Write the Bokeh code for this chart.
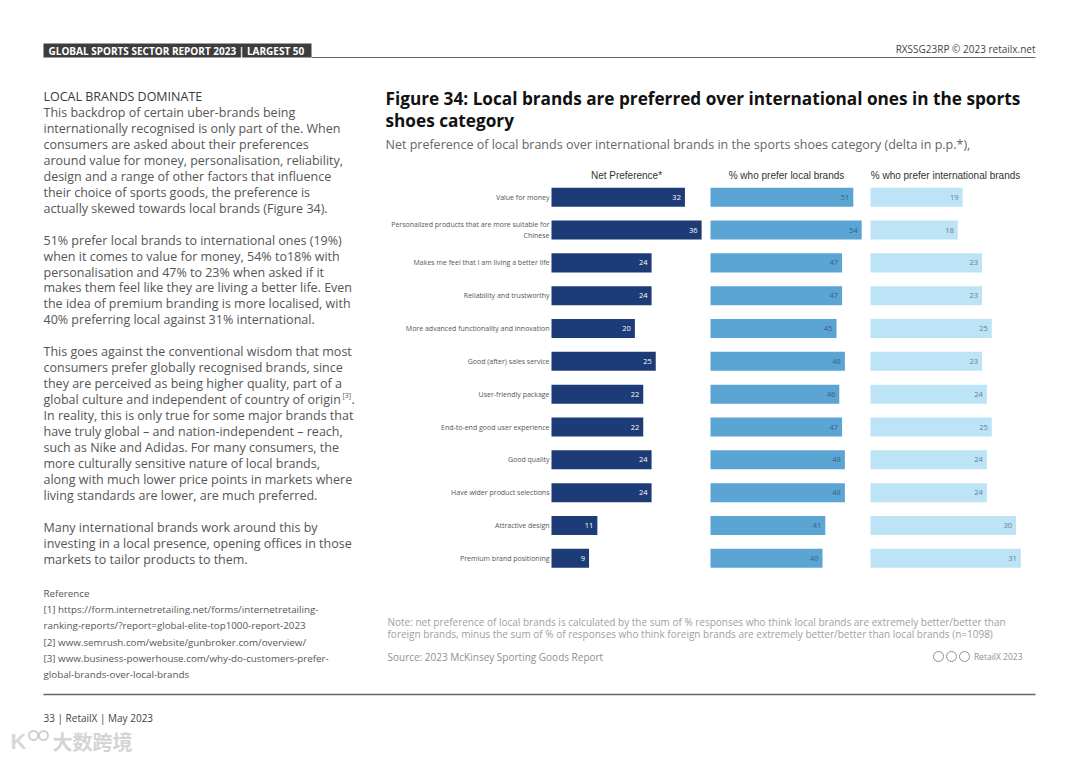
from bokeh.plotting import figure
from bokeh.models import Range1d, ColumnDataSource
from bokeh.core.properties import value
from bokeh.embed import file_html
from bokeh.resources import INLINE

# ---------------- data ----------------
categories = [
    "Value for money",
    "Personalized products that are more suitable for\nChinese",
    "Makes me feel that I am living a better life",
    "Reliability and trustworthy",
    "More advanced functionality and innovation",
    "Good (after) sales service",
    "User-friendly package",
    "End-to-end good user experience",
    "Good quality",
    "Have wider product selections",
    "Attractive design",
    "Premium brand positioning",
]
net_pref = [32, 36, 24, 24, 20, 25, 22, 22, 24, 24, 11, 9]
local_pref = [51, 54, 47, 47, 45, 48, 46, 47, 48, 48, 41, 40]
intl_pref = [19, 18, 23, 23, 25, 23, 24, 25, 24, 24, 30, 31]
panel_titles = ["Net Preference*", "% who prefer local brands", "% who prefer international brands"]

title_lines = ["Figure 34: Local brands are preferred over international ones in the sports",
               "shoes category"]
subtitle = "Net preference of local brands over international brands in the sports shoes category (delta in p.p.*),"
note_lines = ["Note: net preference of local brands is calculated by the sum of % responses who think local brands are extremely better/better than",
              "foreign brands, minus the sum of % of responses who think foreign brands are extremely better/better than local brands (n=1098)"]
source_text = "Source: 2023 McKinsey Sporting Goods Report"

body_heading = "LOCAL BRANDS DOMINATE"
body_paragraphs = [
    ["This backdrop of certain uber-brands being",
     "internationally recognised is only part of the. When",
     "consumers are asked about their preferences",
     "around value for money, personalisation, reliability,",
     "design and a range of other factors that influence",
     "their choice of sports goods, the preference is",
     "actually skewed towards local brands (Figure 34)."],
    ["51% prefer local brands to international ones (19%)",
     "when it comes to value for money, 54% to18% with",
     "personalisation and 47% to 23% when asked if it",
     "makes them feel like they are living a better life. Even",
     "the idea of premium branding is more localised, with",
     "40% preferring local against 31% international."],
    ["This goes against the conventional wisdom that most",
     "consumers prefer globally recognised brands, since",
     "they are perceived as being higher quality, part of a",
     "global culture and independent of country of origin",
     "In reality, this is only true for some major brands that",
     "have truly global \u2013 and nation-independent \u2013 reach,",
     "such as Nike and Adidas. For many consumers, the",
     "more culturally sensitive nature of local brands,",
     "along with much lower price points in markets where",
     "living standards are lower, are much preferred."],
    ["Many international brands work around this by",
     "investing in a local presence, opening offices in those",
     "markets to tailor products to them."],
]
ref_lines = ["Reference",
             "[1] https://form.internetretailing.net/forms/internetretailing-",
             "ranking-reports/?report=global-elite-top1000-report-2023",
             "[2] www.semrush.com/website/gunbroker.com/overview/",
             "[3] www.business-powerhouse.com/why-do-customers-prefer-",
             "global-brands-over-local-brands"]

# ---------------- figure ----------------
W, H = 1064, 760
p = figure(width=W, height=H, x_range=Range1d(0, W), y_range=Range1d(H, 0),
           min_border=0, toolbar_location=None, output_backend="svg")
p.axis.visible = False
p.grid.visible = False
p.outline_line_color = None
p.background_fill_color = "white"

OS = value("Open Sans")
LS = value("Liberation Sans")

def txt(x, y, s, size, color, align="left", font=OS, style="normal", baseline="middle"):
    p.text(x=[x], y=[y], text=[s], text_font=font, text_font_size=f"{size}px",
           text_color=color, text_align=align, text_baseline=baseline, text_font_style=style)

# panel scales (pixels per unit, base position)
row0, row_step = 196.7, 32.83
p.extra_y_ranges = {"rows": Range1d((H - row0) / row_step, (0 - row0) / row_step)}
panels = [("net", net_pref, 551.0, 4.17, "#1d3b77", "white"),
          ("local", local_pref, 710.0, 2.80, "#5ba5d4", "#3b5f82"),
          ("intl", intl_pref, 870.0, 4.85, "#bde3f7", "#5d7d96")]
for name, vals, base, scale, _, _ in panels:
    p.extra_x_ranges[name] = Range1d((0 - base) / scale, (W - base) / scale)

idx = list(range(len(categories)))
for (name, vals, base, scale, col, tcol), ttl in zip(panels, panel_titles):
    src = ColumnDataSource(dict(y=idx, v=vals, lab=[str(v) for v in vals]))
    p.hbar(y="y", left=0, right="v", height=0.58, source=src, fill_color=col,
           line_color=None, x_range_name=name, y_range_name="rows")
    p.text(x="v", y="y", text="lab", source=src, x_offset=-4, text_align="right",
           text_baseline="middle", text_font=OS, text_font_size="7.5px", text_color=tcol,
           x_range_name=name, y_range_name="rows")

csrc = ColumnDataSource(dict(y=idx, x=[0] * len(idx), t=categories))
p.text(x="x", y="y", text="t", source=csrc, x_offset=-2, text_align="right",
       text_baseline="middle", text_font=OS, text_font_size="7px", text_color="#555555",
       text_line_height=1.25, x_range_name="net", y_range_name="rows")

for x, t in zip([626, 786, 945], panel_titles):
    txt(x, 175, t, 10, "#333333", align="center", font=LS)

# ---------------- header ----------------
p.quad(left=[43], right=[311], top=[43], bottom=[57], fill_color="#3d3d3d", line_color=None)
txt(48, 50.5, "GLOBAL SPORTS SECTOR REPORT 2023 | LARGEST 50", 10, "white", style="bold")
p.line(x=[311, 1035], y=[57, 57], line_color="#666666", line_width=1.2)
txt(1035, 48, "RXSSG23RP \u00a9 2023 retailx.net", 10, "#444444", align="right")

# ---------------- title ----------------
for i, t in enumerate(title_lines):
    txt(385, 98 + i * 22, t, 17.2, "#111111", style="bold")
txt(385, 144, subtitle, 12.5, "#666666")

# ---------------- left text ----------------
txt(43, 96, body_heading, 12.5, "#3a3a3a")
y = 112
lh = 15.95
for para in body_paragraphs:
    for line in para:
        txt(43, y, line, 12.5, "#555555")
        if line.endswith("country of origin"):
            txt(342, y - 4, "[3]", 7, "#555555")
            txt(351, y, ".", 12.5, "#555555")
        y += lh
    y += lh
for i, t in enumerate(ref_lines):
    txt(43, 593 + i * 16.2, t, 9.8, "#555555")

# ---------------- notes ----------------
for i, t in enumerate(note_lines):
    txt(387, 621 + i * 12, t, 10, "#a0a0a0")
txt(387, 656, source_text, 10, "#909090")
txt(1022, 656, "RetailX 2023", 8.5, "#909090", align="right")
p.scatter(x=[938, 951, 964], y=[656, 656, 656], size=10, fill_color=None,
          line_color="#909090", line_width=1)

# ---------------- footer ----------------
p.line(x=[43, 1035], y=[694, 694], line_color="#666666", line_width=1.5)
txt(43, 717, "33 | RetailX | May 2023", 10, "#444444")
txt(10, 741, "K", 22, "#d8d8d8", font=LS, style="bold")
p.scatter(x=[33, 43], y=[735, 735], size=9, fill_color=None, line_color="#d0d0d0", line_width=2)
txt(52, 741, "大数跨境", 20, "#d4d4d4", font=value("Noto Sans CJK SC"), style="bold")

open("out.html", "w").write(file_html(p, INLINE))
